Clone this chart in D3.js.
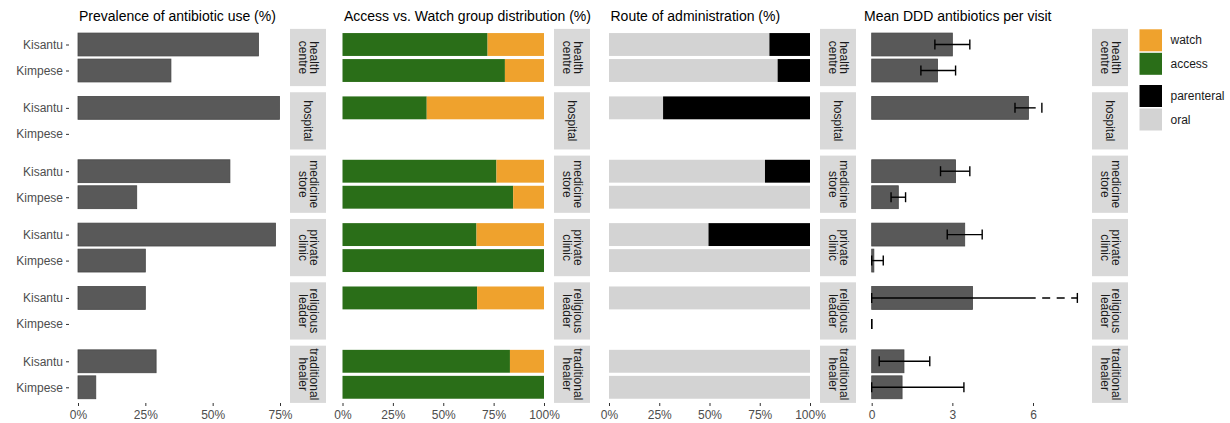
<!DOCTYPE html>
<html><head><meta charset="utf-8">
<script src="https://cdn.jsdelivr.net/npm/d3@7"></script>
<style>
body{margin:0;background:#fff}
svg{display:block;font-family:"Liberation Sans",Arial,Helvetica,sans-serif}
</style>
</head><body>
<svg id="c" width="1230" height="423"></svg>
<script>
// ---------- data ----------
const facets = ['health centre','hospital','medicine store','private clinic','religious leader','traditional healer'];
const locations = ['Kisantu','Kimpese'];

// Prevalence of antibiotic use (%)
const prevKisantu = [67.0, 74.8, 56.4, 73.3, 25.0, 29.0];
const prevKimpese = [34.5, null, 21.8, 25.0, null, 6.6];

// Access share (%) ; watch = 100 - access
const accessKisantu = [72.0, 41.8, 76.4, 66.5, 66.8, 83.1];
const accessKimpese = [80.6, null, 84.7, 100, null, 100];

// Oral share (%) ; parenteral = 100 - oral
const oralKisantu = [79.8, 26.9, 77.6, 49.5, 100, 100];
const oralKimpese = [83.9, null, 100, 100, null, 100];

// Mean DDD antibiotics per visit, with error bars
const dddKisantu = [3.00, 5.83, 3.12, 3.46, 3.75, 1.20];
const dddKimpese = [2.45, null, 0.99, 0.08, 0.00, 1.13];
const lowKisantu = [2.35, 5.33, 2.56, 2.81, 0.00, 0.28];
const lowKimpese = [1.83, null, 0.72, 0.00, 0.00, 0.00];
const highKisantu = [3.65, 6.33, 3.65, 4.11, 7.65, 2.16];
const highKimpese = [3.12, null, 1.26, 0.43, 0.00, 3.43];
const dddBreak = 6.1;   // error bar drawn dashed beyond this value

const pctTicks = [0, 25, 50, 75, 100];
const prevTicks = [0, 25, 50, 75];
const dddTicks = [0, 3, 6];

const titles = ['Prevalence of antibiotic use (%)','Access vs. Watch group distribution (%)','Route of administration (%)','Mean DDD antibiotics per visit'];
const legendGroups = [
  [{label:'watch', color:'#EFA22D'}, {label:'access', color:'#2A6E18'}],
  [{label:'parenteral', color:'#000000'}, {label:'oral', color:'#D3D3D3'}]
];

// ---------- layout ----------
const svg = d3.select('#c');
const C = {access:'#2A6E18', watch:'#EFA22D', oral:'#D3D3D3', parenteral:'#000000', bar:'#595959', barStroke:'#464646', strip:'#D9D9D9'};
const fy = d3.scaleBand().domain(facets).range([28.9, 402.9]).paddingInner(0.097).paddingOuter(0);
function ly(f){ return d3.scalePoint().domain(locations).range([fy(f), fy(f)+fy.bandwidth()]).padding(0.6); }
const barFrac = 0.88;
const axisY = 403;

const xs = [
  d3.scaleLinear().domain([0,75]).range([78,280]),
  d3.scaleLinear().domain([0,100]).range([342.5,544]),
  d3.scaleLinear().domain([0,100]).range([609,810]),
  d3.scaleLinear().domain([0,6]).range([871.7,1033])
];
const stripX = [290, 554, 820, 1092];
const stripW = 36;
const titleX = [79, 344, 610.5, 864];

// titles
titles.forEach((t,i)=>{
  svg.append('text').attr('x',titleX[i]).attr('y',21).attr('font-size',14).attr('fill','#000').text(t);
});

// rows of data per facet
const rows = facets.map((f,i)=>({
  facet:f,
  prev:{Kisantu:prevKisantu[i], Kimpese:prevKimpese[i]},
  access:{Kisantu:accessKisantu[i], Kimpese:accessKimpese[i]},
  oral:{Kisantu:oralKisantu[i], Kimpese:oralKimpese[i]},
  ddd:{Kisantu:dddKisantu[i], Kimpese:dddKimpese[i]},
  lo:{Kisantu:lowKisantu[i], Kimpese:lowKimpese[i]},
  hi:{Kisantu:highKisantu[i], Kimpese:highKimpese[i]}
}));

rows.forEach(r=>{
  const y = ly(r.facet);
  const bh = y.step()*barFrac;
  // y axis (panel 1)
  const ya = svg.append('g').attr('transform','translate(69,0)')
    .call(d3.axisLeft(y).tickSize(3).tickPadding(3));
  ya.select('.domain').remove();
  ya.selectAll('line').attr('stroke','#333');
  ya.selectAll('text').attr('font-size',12).attr('fill','#4D4D4D').attr('font-family','"Liberation Sans",Arial,sans-serif');

  locations.forEach(loc=>{
    const cy = y(loc);
    // panel 1
    const p = r.prev[loc];
    if(p!=null && p>0){
      svg.append('rect').attr('x',xs[0](0)).attr('y',cy-bh/2).attr('width',xs[0](p)-xs[0](0)).attr('height',bh)
        .attr('fill',C.bar).attr('stroke',C.barStroke).attr('stroke-width',0.8);
    }
    // panel 2
    const a = r.access[loc];
    if(a!=null){
      svg.append('rect').attr('x',xs[1](0)).attr('y',cy-bh/2).attr('width',xs[1](a)-xs[1](0)).attr('height',bh).attr('fill',C.access);
      if(a<100) svg.append('rect').attr('x',xs[1](a)).attr('y',cy-bh/2).attr('width',xs[1](100)-xs[1](a)).attr('height',bh).attr('fill',C.watch);
    }
    // panel 3
    const o = r.oral[loc];
    if(o!=null){
      svg.append('rect').attr('x',xs[2](0)).attr('y',cy-bh/2).attr('width',xs[2](o)-xs[2](0)).attr('height',bh).attr('fill',C.oral);
      if(o<100) svg.append('rect').attr('x',xs[2](o)).attr('y',cy-bh/2).attr('width',xs[2](100)-xs[2](o)).attr('height',bh).attr('fill',C.parenteral);
    }
    // panel 4
    const d = r.ddd[loc];
    if(d!=null){
      const x = xs[3];
      if(d>0) svg.append('rect').attr('x',x(0)).attr('y',cy-bh/2).attr('width',x(d)-x(0)).attr('height',bh)
        .attr('fill',C.bar).attr('stroke',C.barStroke).attr('stroke-width',0.8);
      const lo=r.lo[loc], hi=r.hi[loc];
      const g = svg.append('g').attr('stroke','#000').attr('stroke-width',1.4).attr('fill','none');
      const capH = 5;
      if(hi>dddBreak){
        g.append('line').attr('x1',x(lo)).attr('x2',x(dddBreak)).attr('y1',cy).attr('y2',cy);
        g.append('line').attr('x1',x(dddBreak)).attr('x2',x(hi)).attr('y1',cy).attr('y2',cy)
          .attr('stroke-dasharray','8,6.5').attr('stroke-dashoffset',8);
      } else {
        g.append('line').attr('x1',x(lo)).attr('x2',x(hi)).attr('y1',cy).attr('y2',cy);
      }
      g.append('line').attr('x1',x(lo)).attr('x2',x(lo)).attr('y1',cy-capH).attr('y2',cy+capH);
      g.append('line').attr('x1',x(hi)).attr('x2',x(hi)).attr('y1',cy-capH).attr('y2',cy+capH);
    }
  });

  // strips
  stripX.forEach(sx=>{
    svg.append('rect').attr('x',sx).attr('y',fy(r.facet)).attr('width',stripW).attr('height',fy.bandwidth()).attr('fill',C.strip);
    const lines = r.facet.split(' ');
    const cx = sx+stripW/2, cyy = fy(r.facet)+fy.bandwidth()/2;
    const t = svg.append('text').attr('transform',`translate(${cx},${cyy}) rotate(90)`)
      .attr('text-anchor','middle').attr('font-size',12).attr('fill','#1A1A1A');
    const lh = 11;
    lines.forEach((ln,k)=>{
      t.append('tspan').attr('x',0).attr('y',(k-(lines.length-1)/2)*lh).attr('dominant-baseline','central').text(ln);
    });
  });
});

// x axes
const fmtPct = d=>d+'%';
[[xs[0],prevTicks,fmtPct],[xs[1],pctTicks,fmtPct],[xs[2],pctTicks,fmtPct],[xs[3],dddTicks,d3.format('d')]].forEach(([x,ticks,fmt])=>{
  const ax = svg.append('g').attr('transform',`translate(0,${axisY})`)
    .call(d3.axisBottom(x).tickValues(ticks).tickFormat(fmt).tickSize(3).tickPadding(4));
  ax.select('.domain').remove();
  ax.selectAll('line').attr('stroke','#333');
  ax.selectAll('text').attr('font-size',12).attr('fill','#4D4D4D').attr('font-family','"Liberation Sans",Arial,sans-serif');
});

// legend
const keyX = 1139.5, keyW = 22.5, keyH = 22;
const groupY = [29.3, 85];
legendGroups.forEach((grp,gi)=>{
  grp.forEach((it,k)=>{
    const y0 = groupY[gi] + k*(keyH+1.5);
    svg.append('rect').attr('x',keyX).attr('y',y0).attr('width',keyW).attr('height',keyH).attr('fill',it.color);
    svg.append('text').attr('x',1170.5).attr('y',y0+keyH/2).attr('dominant-baseline','central')
      .attr('font-size',12).attr('fill','#1A1A1A').text(it.label);
  });
});
</script>
</body></html>
